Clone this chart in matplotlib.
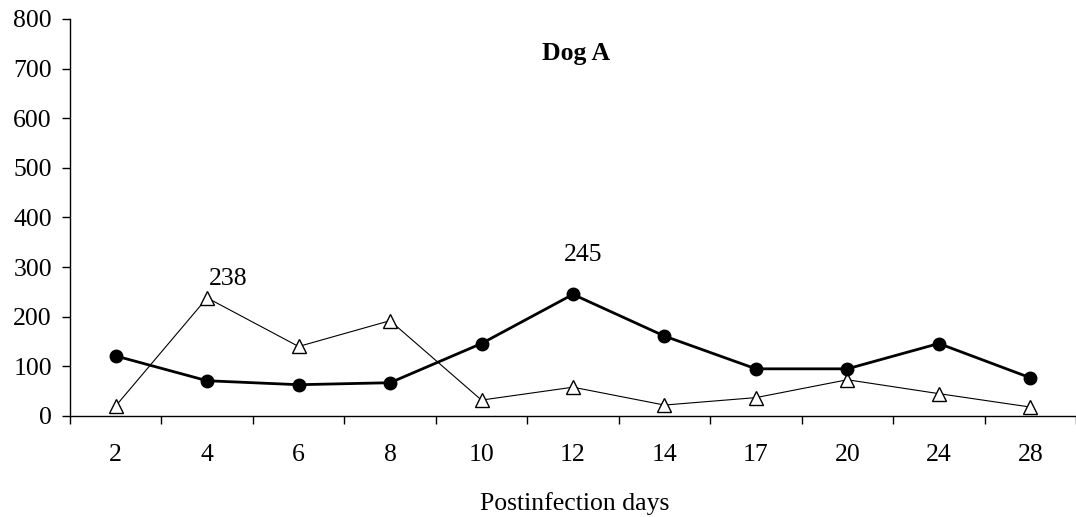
import matplotlib
matplotlib.use('Agg')
import matplotlib.pyplot as plt
import numpy as np

plt.rcParams['font.family'] = ['Liberation Serif', 'DejaVu Serif']

# 感染后天数及两组测量值
days = ['2', '4', '6', '8', '10', '12', '14', '17', '20', '24', '28']
circle_vals = [121, 71, 63, 67, 146, 245, 161, 95, 95, 146, 77]
triangle_vals = [20, 238, 140, 192, 32, 58, 22, 37, 73, 45, 18]

fs = 18.5

fig = plt.figure(figsize=(10.76, 5.17), dpi=100)
ax = fig.add_axes([0.065, 0.1954, 0.935, 0.768])

x = np.arange(len(days))
ax.plot(x, triangle_vals, color='black', linewidth=0.8, marker='^', markersize=10,
        markerfacecolor='white', markeredgecolor='black', markeredgewidth=1.0, zorder=2)
ax.plot(x, circle_vals, color='black', linewidth=2.0, marker='o', markersize=9,
        markerfacecolor='black', markeredgecolor='black', zorder=3)

# 峰值标注
i_t = int(np.argmax(triangle_vals))
ax.annotate(str(triangle_vals[i_t]), (x[i_t], triangle_vals[i_t]), xytext=(1, 9.5),
            textcoords='offset points', ha='left', va='baseline', fontsize=fs)
i_c = int(np.argmax(circle_vals))
ax.annotate(str(circle_vals[i_c]), (x[i_c], circle_vals[i_c]), xytext=(7, 24),
            textcoords='offset points', ha='center', va='baseline', fontsize=fs)

ax.set_xlim(-0.5, len(days) - 0.5)
ax.set_ylim(0, 800)
ax.set_yticks(range(0, 801, 100))
ax.set_xticks(x)
ax.set_xticklabels(days)
ax.set_xticks(np.arange(-0.5, len(days), 1.0), minor=True)
ax.tick_params(axis='x', which='major', length=0, pad=20, labelsize=fs)
ax.tick_params(axis='x', which='minor', length=6, width=1.0, direction='out')
ax.tick_params(axis='y', length=6, width=1.0, direction='out', pad=7, labelsize=fs)

for side in ['top', 'right']:
    ax.spines[side].set_visible(False)
ax.spines['left'].set_linewidth(1.0)
ax.spines['bottom'].set_linewidth(1.0)

ax.text(0.503, 0.912, 'Dog A', transform=ax.transAxes, ha='center', va='center',
        fontsize=fs, fontweight='bold')
ax.set_xlabel('Postinfection days', fontsize=fs, va='top')
ax.xaxis.set_label_coords(0.502, -0.191)

fig.savefig('out.png', dpi=100)
